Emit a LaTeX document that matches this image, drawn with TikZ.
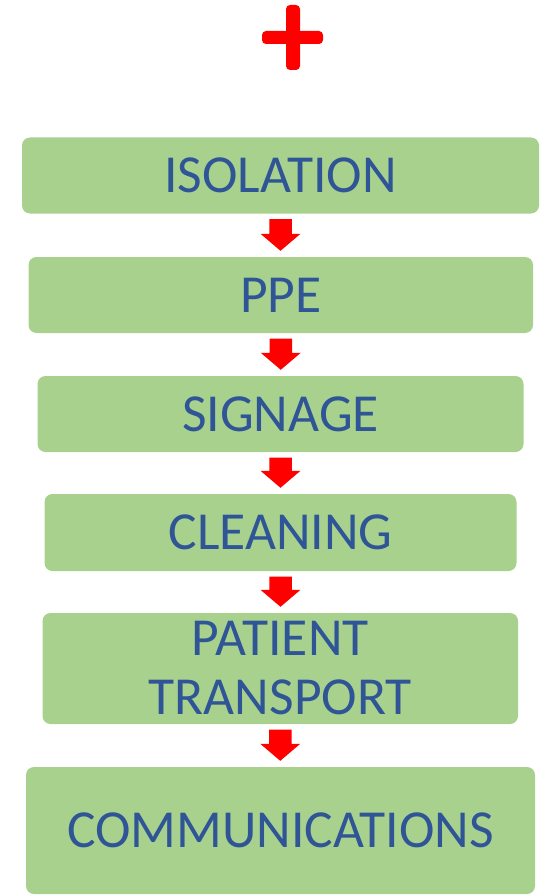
\documentclass[tikz,border=0pt]{standalone}
\usepackage{fontspec}
\setmainfont{Carlito}
\usetikzlibrary{calc}
\definecolor{boxgreen}{HTML}{A9D18E}
\definecolor{textblue}{HTML}{2F5597}
\definecolor{arrowred}{HTML}{FF0000}
\tikzset{
  stepbox/.style={fill=boxgreen, draw=none, rounded corners=8pt, inner sep=0pt,
    text=textblue, font=\fontsize{53.5}{59}\selectfont, align=center},
  blockarrow/.style={to path={let \p1=(\tikztostart), \p2=(\tikztotarget) in
    (\x1-11.25pt,\y1-5.5pt) -- (\x1+11.25pt,\y1-5.5pt) -- (\x1+11.25pt,\y2+23pt)
    -- (\x1+20pt,\y2+23pt) -- (\x1,\y2+6pt) -- (\x1-20pt,\y2+23pt)
    -- (\x1-11.25pt,\y2+23pt) -- cycle}},
}
\begin{document}
\begin{tikzpicture}[x=1pt,y=1pt]
\useasboundingbox (0,0) rectangle (545,-896);
% red cross
\fill[arrowred, rounded corners=4pt] (286,-5) rectangle (300,-70);
\fill[arrowred, rounded corners=4pt] (262,-31) rectangle (323,-44);
% boxes
\node[stepbox, minimum width=517pt, minimum height=76pt] (b1) at (280.5,-175.5) {ISOLATION};
\node[stepbox, minimum width=504.5pt, minimum height=76pt] (b2) at (280.75,-295) {PPE};
\node[stepbox, minimum width=486pt, minimum height=76pt] (b3) at (280.5,-414) {SIGNAGE};
\node[stepbox, minimum width=472pt, minimum height=77pt] (b4) at (280.5,-532.5) {CLEANING};
\node[stepbox, minimum width=475.5pt, minimum height=111pt] (b5) at (280.25,-668.5) {PATIENT\\TRANSPORT};
\node[stepbox, minimum width=509pt, minimum height=127pt] (b6) at (280.5,-830.5) {COMMUNICATIONS};
% arrows
\fill[arrowred] (b1.south) to[blockarrow] (b2.north);
\fill[arrowred] (b2.south) to[blockarrow] (b3.north);
\fill[arrowred] (b3.south) to[blockarrow] (b4.north);
\fill[arrowred] (b4.south) to[blockarrow] (b5.north);
\fill[arrowred] (b5.south) to[blockarrow] (b6.north);
\end{tikzpicture}
\end{document}
